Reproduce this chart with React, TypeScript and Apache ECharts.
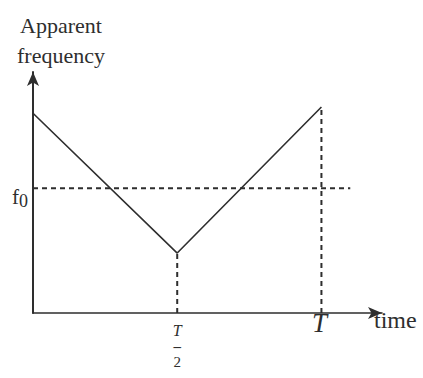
import React, { useEffect, useRef } from "react";
import * as echarts from "echarts";

// time in units of T, frequency in units of f0
const times = [0, 0.5, 1];
const freqs = [1.6, 0.48, 1.65];
const f0Value = 1;
const f0LineEnd = 1.1;
const xLabelValues = [0.5, 1];
const yLabelValues = [1];

const FONT = "Liberation Serif";
const INK = "#2e2e2e";

export default function App() {
  const ref = useRef<HTMLDivElement>(null);
  useEffect(() => {
    if (!ref.current) return;
    const chart = echarts.init(ref.current, null, { renderer: "svg" });
    const dashed = { color: INK, width: 2, type: [5, 4] as any };
    chart.setOption({
      animation: false,
      backgroundColor: "#ffffff",
      grid: { left: 33, top: 72, right: 41, bottom: 65, containLabel: false, outerBoundsMode: "none" },
      xAxis: {
        type: "value",
        min: 0,
        max: 1.21,
        splitLine: { show: false },
        axisTick: { show: false },
        axisLine: {
          show: true,
          symbol: ["none", "arrow"],
          symbolSize: [9, 14],
          lineStyle: { color: INK, width: 1.6 },
        },
        axisLabel: {
          customValues: xLabelValues,
          margin: -4,
          hideOverlap: false,
          formatter: (v: number) =>
            v === 0.5 ? "{sp| }\n{n|T}\n{b|–}\n{d|2}" : "{t|T}",
          rich: {
            t: { fontFamily: FONT, fontStyle: "italic", fontSize: 27, color: INK, lineHeight: 27, padding: [0, 4, 0, 0] },
            sp: { fontSize: 1, lineHeight: 13, color: "rgba(0,0,0,0)" },
            n: { fontFamily: FONT, fontStyle: "italic", fontSize: 16, color: INK, lineHeight: 16 },
            b: { fontFamily: FONT, fontSize: 15, fontWeight: "bold", color: INK, lineHeight: 16 },
            d: { fontFamily: FONT, fontSize: 15, color: INK, lineHeight: 16 },
          },
        },
        name: "time",
        nameLocation: "end",
        nameGap: -8,
        nameTextStyle: {
          fontFamily: FONT,
          fontSize: 24,
          color: INK,
          verticalAlign: "top",
          lineHeight: 14,
        },
      },
      yAxis: {
        type: "value",
        min: 0,
        max: 1.93,
        splitLine: { show: false },
        axisTick: { show: false },
        axisLine: {
          show: true,
          symbol: ["none", "arrow"],
          symbolSize: [9, 14],
          lineStyle: { color: INK, width: 2 },
        },
        axisLabel: {
          customValues: yLabelValues,
          margin: 5,
          formatter: () => "{f|f}{s|0}",
          rich: {
            f: { fontFamily: FONT, fontSize: 21, color: INK, padding: [18, 0, 0, 0] },
            s: { fontFamily: FONT, fontSize: 18, color: INK, padding: [26, 0, 0, 0] },
          },
        },
        name: "Apparent\nfrequency",
        nameLocation: "end",
        nameGap: 2,
        nameTextStyle: {
          fontFamily: FONT,
          fontSize: 22,
          color: INK,
          lineHeight: 30,
          padding: [0, 0, 0, 56],
        },
      },
      series: [
        {
          type: "line",
          data: times.map((t, i) => [t, freqs[i]]),
          symbol: "none",
          lineStyle: { color: INK, width: 1.6 },
        },
        {
          type: "line",
          data: [[0, f0Value], [f0LineEnd, f0Value]],
          symbol: "none",
          lineStyle: dashed,
        },
        {
          type: "line",
          data: [[times[1], 0], [times[1], freqs[1]]],
          symbol: "none",
          lineStyle: dashed,
        },
        {
          type: "line",
          data: [[times[2], 0], [times[2], freqs[2]]],
          symbol: "none",
          lineStyle: dashed,
        },
      ],
    });
    return () => chart.dispose();
  }, []);
  return (
    <div
      ref={ref}
      style={{ position: "fixed", left: 0, top: 0, width: 423, height: 378 }}
    />
  );
}
